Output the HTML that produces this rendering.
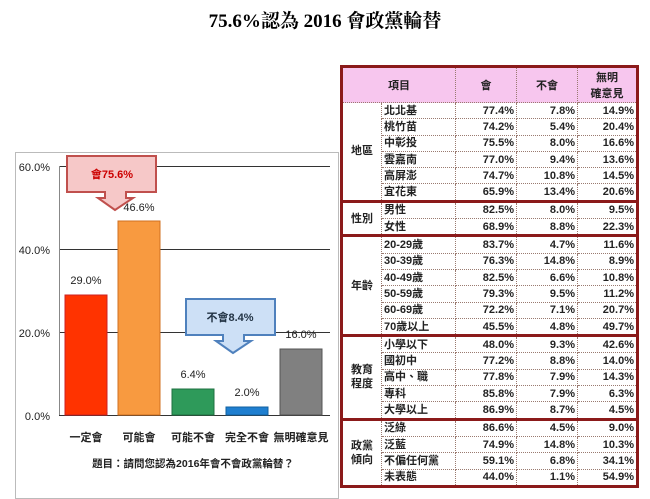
<!DOCTYPE html>
<html><head><meta charset="utf-8"><style>
body{margin:0;width:650px;height:499px;background:#fff;overflow:hidden;position:relative;font-family:"Liberation Sans","Noto Sans CJK TC",sans-serif}
.t{position:absolute;top:6px;left:0;width:650px;text-align:center;font:bold 19px "Liberation Serif","Noto Serif CJK SC",serif}
table{position:absolute;left:340px;top:65px;border-collapse:collapse;border:3px solid #8b1a1a;font-size:11px;font-weight:bold;color:#222}
td{border:1px dotted #9a7a70;height:15.3px;padding:0 2px;line-height:14px}
th{background:#f7c6ee;border:1px dotted #9a7a70;height:31px;font-size:11px}
td.n{text-align:right}
td.c{text-align:center}
tr.s td{border-top:3px solid #8b1a1a}
</style></head><body>
<div class="t">75.6%認為 2016 會政黨輪替</div>
<svg width="650" height="499" style="position:absolute;left:0;top:0" font-family="Liberation Sans,Noto Sans CJK TC,sans-serif">
<rect x="15.5" y="152.5" width="323" height="346" fill="#fff" stroke="#bbb"/>
<g stroke="#333" stroke-width="1">
<line x1="59" y1="166.5" x2="330" y2="166.5"/><line x1="59" y1="249.5" x2="330" y2="249.5"/><line x1="59" y1="332.5" x2="330" y2="332.5"/><line x1="59" y1="415.5" x2="330" y2="415.5"/>
<line x1="59.5" y1="166" x2="59.5" y2="415" stroke="#888"/>
</g>
<g font-size="11" fill="#222" text-anchor="end"><text x="50" y="171">60.0%</text><text x="50" y="254">40.0%</text><text x="50" y="337">20.0%</text><text x="50" y="420">0.0%</text></g>
<rect x="65" y="295" width="42" height="120" fill="#ff3300" stroke="#c22"/>
<rect x="118" y="221" width="42" height="194" fill="#f89a40" stroke="#d07020"/>
<rect x="172" y="389" width="42" height="26" fill="#2e9a5a" stroke="#1f7040"/>
<rect x="226" y="407" width="42" height="8" fill="#1f7fd0" stroke="#1060a0"/>
<rect x="280" y="349" width="42" height="66" fill="#808080" stroke="#555"/>
<g font-size="11" fill="#222" text-anchor="middle"><text x="86" y="284">29.0%</text><text x="139" y="211">46.6%</text><text x="193" y="378">6.4%</text><text x="247" y="396">2.0%</text><text x="301" y="338">16.0%</text></g>
<g font-size="11" font-weight="bold" fill="#222" text-anchor="middle"><text x="86" y="441">一定會</text><text x="139" y="441">可能會</text><text x="193" y="441">可能不會</text><text x="247" y="441">完全不會</text><text x="301" y="441">無明確意見</text>
<text x="193" y="467" font-size="10.5">題目：請問您認為2016年會不會政黨輪替？</text></g>
<path d="M67 156H156V192H126V198H133L115 210L98 198H105V192H67Z" fill="#f6c8c8" stroke="#c0504d" stroke-width="2"/>
<text x="112" y="178" font-size="11" font-weight="bold" fill="#c00" text-anchor="middle">會75.6%</text>
<path d="M186 299H275V335H244V341H251L233 353L216 341H223V335H186Z" fill="#cde0f6" stroke="#4f81bd" stroke-width="2"/>
<text x="230" y="321" font-size="11" font-weight="bold" fill="#234" text-anchor="middle">不會8.4%</text>
</svg>
<table>
<tr><th colspan="2" style="width:110px">項目</th><th style="width:58px">會</th><th style="width:58px">不會</th><th style="width:56px">無明<br>確意見</th></tr>
<tr><td rowspan="6" class="c" style="width:34px">地區</td><td>北北基</td><td class="n">77.4%</td><td class="n">7.8%</td><td class="n">14.9%</td></tr>
<tr><td>桃竹苗</td><td class="n">74.2%</td><td class="n">5.4%</td><td class="n">20.4%</td></tr>
<tr><td>中彰投</td><td class="n">75.5%</td><td class="n">8.0%</td><td class="n">16.6%</td></tr>
<tr><td>雲嘉南</td><td class="n">77.0%</td><td class="n">9.4%</td><td class="n">13.6%</td></tr>
<tr><td>高屏澎</td><td class="n">74.7%</td><td class="n">10.8%</td><td class="n">14.5%</td></tr>
<tr><td>宜花東</td><td class="n">65.9%</td><td class="n">13.4%</td><td class="n">20.6%</td></tr>
<tr class="s"><td rowspan="2" class="c">性別</td><td>男性</td><td class="n">82.5%</td><td class="n">8.0%</td><td class="n">9.5%</td></tr>
<tr><td>女性</td><td class="n">68.9%</td><td class="n">8.8%</td><td class="n">22.3%</td></tr>
<tr class="s"><td rowspan="6" class="c">年齡</td><td>20-29歲</td><td class="n">83.7%</td><td class="n">4.7%</td><td class="n">11.6%</td></tr>
<tr><td>30-39歲</td><td class="n">76.3%</td><td class="n">14.8%</td><td class="n">8.9%</td></tr>
<tr><td>40-49歲</td><td class="n">82.5%</td><td class="n">6.6%</td><td class="n">10.8%</td></tr>
<tr><td>50-59歲</td><td class="n">79.3%</td><td class="n">9.5%</td><td class="n">11.2%</td></tr>
<tr><td>60-69歲</td><td class="n">72.2%</td><td class="n">7.1%</td><td class="n">20.7%</td></tr>
<tr><td>70歲以上</td><td class="n">45.5%</td><td class="n">4.8%</td><td class="n">49.7%</td></tr>
<tr class="s"><td rowspan="5" class="c">教育<br>程度</td><td>小學以下</td><td class="n">48.0%</td><td class="n">9.3%</td><td class="n">42.6%</td></tr>
<tr><td>國初中</td><td class="n">77.2%</td><td class="n">8.8%</td><td class="n">14.0%</td></tr>
<tr><td>高中、職</td><td class="n">77.8%</td><td class="n">7.9%</td><td class="n">14.3%</td></tr>
<tr><td>專科</td><td class="n">85.8%</td><td class="n">7.9%</td><td class="n">6.3%</td></tr>
<tr><td>大學以上</td><td class="n">86.9%</td><td class="n">8.7%</td><td class="n">4.5%</td></tr>
<tr class="s"><td rowspan="4" class="c">政黨<br>傾向</td><td>泛綠</td><td class="n">86.6%</td><td class="n">4.5%</td><td class="n">9.0%</td></tr>
<tr><td>泛藍</td><td class="n">74.9%</td><td class="n">14.8%</td><td class="n">10.3%</td></tr>
<tr><td>不偏任何黨</td><td class="n">59.1%</td><td class="n">6.8%</td><td class="n">34.1%</td></tr>
<tr><td>未表態</td><td class="n">44.0%</td><td class="n">1.1%</td><td class="n">54.9%</td></tr>
</table>
</body></html>
